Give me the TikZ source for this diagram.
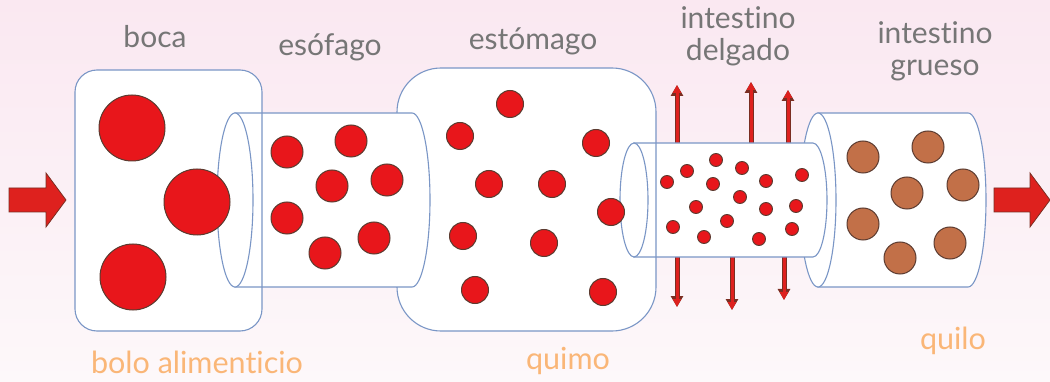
\documentclass[tikz,border=0pt]{standalone}
\usepackage{fontspec}
\setmainfont{Lato}[Ligatures=NoCommon]
\usetikzlibrary{arrows.meta}

\definecolor{organline}{HTML}{7A96C6}
\definecolor{foodred}{HTML}{E8161B}
\definecolor{foodbrown}{HTML}{C27048}
\definecolor{dotline}{HTML}{5B3B30}
\definecolor{labelgray}{HTML}{767676}
\definecolor{labelorange}{HTML}{FAB677}
\definecolor{bgtop}{HTML}{FAE8F1}
\definecolor{bgbottom}{HTML}{FDF8FA}
\definecolor{arrowred}{HTML}{DE211E}
\definecolor{arrowedge}{HTML}{7A2E22}

\tikzset{
  organ/.style={draw=organline, fill=white, line width=1.1pt},
  food/.style={fill=foodred, draw=dotline, line width=1pt},
  waste/.style={fill=foodbrown, draw=dotline, line width=1pt},
  organlabel/.style={text=labelgray, font=\fontsize{30}{32}\selectfont, align=center},
  productlabel/.style={text=labelorange, font=\fontsize{30.5}{32}\selectfont},
  absorbedge/.style={draw=arrowedge, line width=5pt, -{Triangle[width=12pt,length=11pt]}},
  absorbfill/.style={draw=arrowred, line width=3pt, -{Triangle[width=8pt,length=8pt]}},
  blockarrow/.style={fill=arrowred, draw=arrowedge, line width=0.8pt}
}

% tube: left x, right x, centre y, x radius, y radius
\newcommand{\tube}[5]{%
  \draw[organ] (#1,#3-#5) -- (#2,#3-#5)
    arc[start angle=-90, end angle=90, x radius=#4, y radius=#5]
    -- (#1,#3+#5) -- cycle;
  \draw[organ] (#1,#3) ellipse[x radius=#4, y radius=#5];
}

\begin{document}
\begin{tikzpicture}[x=1pt, y=-1pt]
    \useasboundingbox (0,0) rectangle (1050,382);
    \shade[top color=bgtop, bottom color=bgbottom] (0,0) rectangle (1050,382);

    % organs
    \fill[white, rounded corners=22pt] (75,70) rectangle (262,331);
    \fill[white, rounded corners=44pt] (397,68) rectangle (656,331);
    \tube{818}{968}{200}{18}{87}
    \foreach \x/\y in {677/85, 751/82, 788/90, 677/307, 732/310, 784/300} {
        \draw[absorbedge] (\x,200) -- (\x,\y);
        \draw[absorbfill] (\x,200) -- (\x,\y);
    }
    \tube{634}{813}{200}{14}{57}
    \draw[organ, fill=none, rounded corners=44pt] (397,68) rectangle (656,331);
    \tube{235}{412}{200}{18}{87}
    \draw[organ, fill=none, rounded corners=22pt] (75,70) rectangle (262,331);

    % food
    \foreach \x/\y in {132/128, 197/202, 133/277}
        \draw[food] (\x,\y) circle (33);
    \foreach \x/\y in {287/152, 351/141, 332/186, 387/180, 287/218, 374/238, 325/253}
        \draw[food] (\x,\y) circle (16);
    \foreach \x/\y in {510/104, 460/136, 596/143, 489/184, 552/184, 611/212,
                       463/236, 544/243, 475/290, 603/292}
        \draw[food] (\x,\y) circle (13.5);
    \foreach \x/\y in {667/182, 687/171, 716/160, 713/184, 742/168, 766/181,
                       802/175, 740/197, 696/207, 766/209, 796/206, 673/227,
                       727/221, 704/237, 759/239, 792/229}
        \draw[food, line width=0.9pt] (\x,\y) circle (6.5);
    \foreach \x/\y in {863/157, 928/147, 907/193, 963/185, 863/224, 950/243, 900/258}
        \draw[waste] (\x,\y) circle (16);

    % in and out
    \draw[blockarrow] (9,188) -- (46,188) -- (46,173) -- (66,200) -- (46,227)
        -- (46,212) -- (9,212) -- cycle;
    \draw[blockarrow] (994,188) -- (1030,188) -- (1030,173) -- (1050,200)
        -- (1030,227) -- (1030,212) -- (994,212) -- cycle;

    % labels
    \node[organlabel] (boca) at (155,37) {boca};
    \node[organlabel] (esofago) at (330,47) {esófago};
    \node[organlabel] (estomago) at (533,41) {estómago};
    \node[organlabel] (delgado) at (738,36) {intestino\\delgado};
    \node[organlabel] (grueso) at (935,51) {intestino\\grueso};
    \node[productlabel] (bolo) at (197,362) {bolo alimenticio};
    \node[productlabel] (quimo) at (568,361) {quimo};
    \node[productlabel] (quilo) at (953,341) {quilo};
\end{tikzpicture}
\end{document}
